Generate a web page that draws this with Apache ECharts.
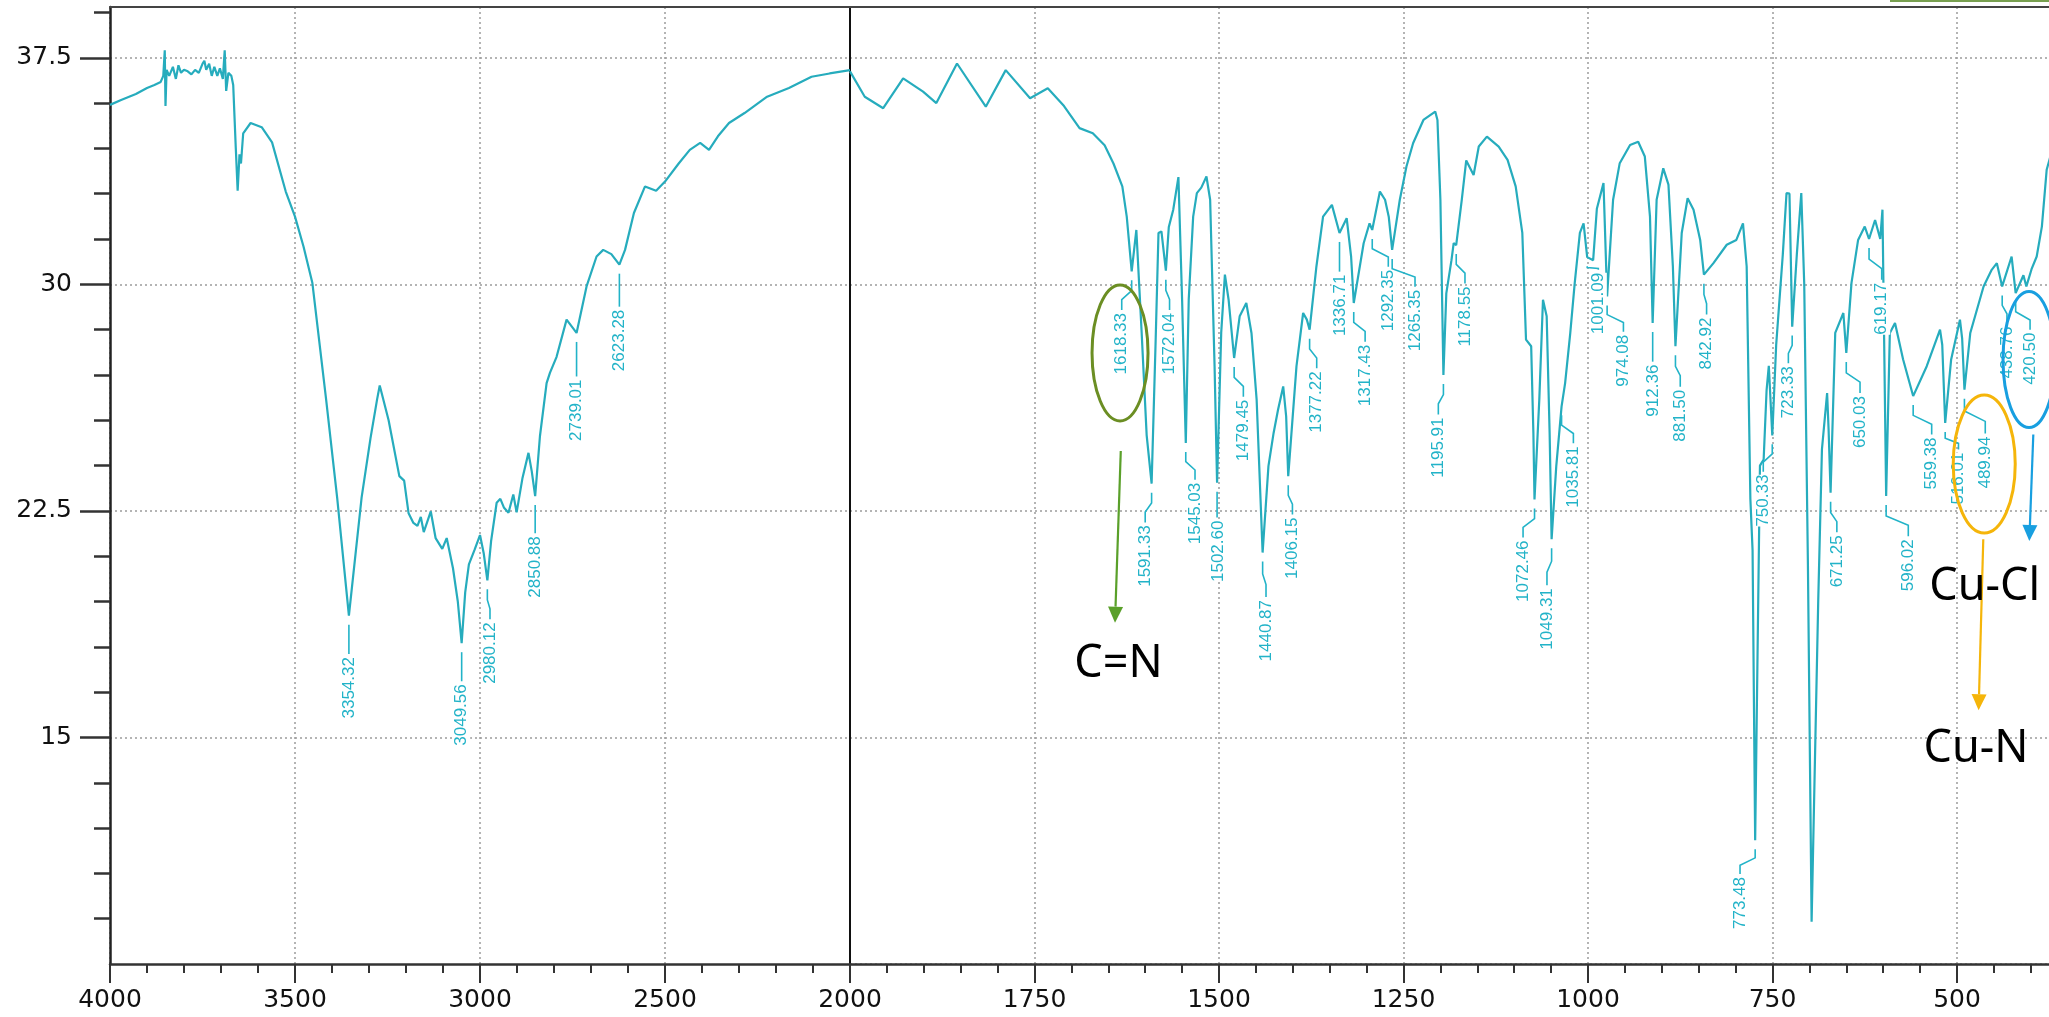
<!DOCTYPE html>
<html>
<head>
<meta charset="utf-8">
<title>FT-IR spectrum</title>
<script src="https://cdn.jsdelivr.net/npm/echarts@6/dist/echarts.min.js"></script>
<style>
  html, body { margin: 0; padding: 0; background: #fff; }
  #main { width: 2049px; height: 1017px; }
</style>
</head>
<body>
<div id="main"></div>
<script>
// spectrum, 4000-2000 cm-1 (left half)
const leftWn = [4000, 3970, 3930, 3900, 3880, 3863, 3856, 3852, 3850, 3847, 3840, 3830, 3822, 3815, 3808,
  3800, 3790, 3780, 3770, 3760, 3750, 3745, 3740, 3732, 3725, 3718, 3710, 3703, 3695, 3690, 3686, 3680,
  3672, 3667, 3660, 3655, 3650, 3646, 3640, 3620, 3590, 3562, 3525, 3500, 3477, 3453, 3416, 3386, 3354.3,
  3320, 3296, 3278, 3271, 3247, 3218, 3205, 3193, 3180, 3169, 3160, 3152, 3133, 3120, 3102, 3090, 3073,
  3060, 3049.6, 3040, 3030, 3015, 3000, 2990, 2980.1, 2970, 2955, 2945, 2935, 2923, 2910, 2901, 2885,
  2869, 2860, 2850.9, 2838, 2820, 2811, 2793, 2766, 2739, 2712, 2685, 2667, 2645, 2623.3, 2608, 2584,
  2554, 2524, 2500, 2463, 2433, 2405, 2381, 2357, 2327, 2285, 2224, 2165, 2104, 2055, 2000];
const leftT = [35.94, 36.1, 36.3, 36.5, 36.6, 36.7, 36.9, 37.75, 35.9, 37.1, 36.9, 37.2, 36.8, 37.25, 37.0,
  37.1, 37.05, 36.95, 37.1, 37.0, 37.3, 37.4, 37.1, 37.3, 36.9, 37.2, 36.9, 37.15, 36.8, 37.75, 36.4, 37.0,
  36.9, 36.6, 34.5, 33.1, 34.3, 34.0, 35.0, 35.34, 35.2, 34.7, 33.07, 32.24, 31.25, 30.04, 26.2, 22.93, 19.03,
  22.94, 24.9, 26.2, 26.65, 25.5, 23.65, 23.5, 22.42, 22.1, 22.0, 22.3, 21.8, 22.48, 21.6, 21.24, 21.6, 20.6,
  19.5, 18.12, 19.8, 20.73, 21.2, 21.7, 21.1, 20.2, 21.5, 22.77, 22.9, 22.6, 22.44, 23.04, 22.45, 23.6,
  24.42, 23.8, 22.99, 24.97, 26.73, 27.07, 27.6, 28.83, 28.39, 29.93, 30.92, 31.14, 31.0, 30.65, 31.14, 32.36,
  33.24, 33.1, 33.4, 34.0, 34.45, 34.68, 34.45, 34.9, 35.34, 35.67, 36.21, 36.5, 36.87, 36.98, 37.09];

// spectrum, 2000-355 cm-1 (right half, x scale doubled)
const rightWn = [2000, 1980, 1955, 1928, 1901, 1883, 1855, 1816, 1789, 1756, 1732, 1710, 1689, 1671, 1655,
  1643, 1631, 1625, 1618.3, 1612, 1605, 1598, 1591.3, 1586, 1582, 1578, 1572, 1568, 1562, 1555, 1550, 1545,
  1541, 1535, 1530, 1524, 1517, 1512, 1506, 1502.6, 1497, 1492, 1487, 1479.5, 1472, 1463, 1456, 1449, 1440.9,
  1433, 1426, 1420, 1413, 1409, 1406.2, 1395, 1386, 1381, 1377.2, 1368, 1359, 1347, 1336.7, 1327, 1321,
  1317.4, 1304, 1296, 1292.4, 1282, 1275, 1270, 1265.4, 1255, 1246, 1237, 1223, 1207, 1204, 1200, 1195.9,
  1192, 1185, 1182, 1178.6, 1171, 1165, 1155, 1148, 1137, 1121, 1109, 1098, 1089, 1084, 1077, 1074, 1072.5,
  1066, 1061, 1056, 1052, 1049.3, 1043, 1035.8, 1031, 1024, 1018, 1011, 1006, 1001.1, 993, 988, 979,
  974.1, 966, 957, 943, 932, 923, 916, 912.4, 907, 898, 891, 885, 881.5, 873, 865, 857, 848, 842.9, 830,
  812, 799, 790, 785, 780, 777, 773.5, 767, 762, 758, 755, 750.3, 745, 736, 731, 727, 723.3, 717, 711, 707,
  702, 697, 688, 683, 676, 674, 671.3, 665, 654, 650, 643, 634, 625, 619.2, 611, 604, 601, 596, 591, 584,
  573, 559.4, 541, 523, 520, 516, 508, 496, 493, 489.9, 482, 464, 453, 446, 438.8, 426, 420.5, 410, 406,
  399, 392, 385, 378.5, 375, 365, 355];
const rightT = [37.05, 36.21, 35.83, 36.82, 36.38, 36.0, 37.31, 35.88, 37.09, 36.16, 36.49, 35.9, 35.17, 35.0, 34.6,
  34.0, 33.24, 32.24, 30.43, 31.8, 28.5, 25.0, 23.4, 28.0, 31.7, 31.75, 30.45, 31.9, 32.47, 33.55, 29.49, 24.75,
  29.5, 32.24, 33.02, 33.2, 33.57, 32.8, 27.3, 23.43, 28.4, 30.32, 29.49, 27.56, 28.94, 29.38, 28.39, 26.18, 21.12,
  23.98, 25.08, 25.85, 26.62, 25.63, 23.65, 27.29, 29.05, 28.83, 28.5, 30.59, 32.24, 32.63, 31.7, 32.19, 30.92,
  29.38, 31.36, 32.02, 31.8, 33.07, 32.8, 32.24, 31.14, 32.8, 33.9, 34.67, 35.44, 35.72, 35.44, 32.8, 27.0,
  29.7, 30.8, 31.36, 31.3, 32.8, 34.1, 33.62, 34.56, 34.89, 34.56, 34.12, 33.24, 31.7, 28.17, 27.95, 25.08, 22.88,
  26.18, 29.49, 28.94, 25.08, 21.56, 23.98, 25.96, 26.73, 28.39, 30.04, 31.7, 32.02, 30.9, 30.8, 32.5, 33.35,
  29.6, 32.8, 34.01, 34.61, 34.72, 34.23, 32.24, 28.72, 32.8, 33.84, 33.3, 30.6, 27.95, 31.7, 32.85, 32.47, 31.47, 30.32, 30.7,
  31.31, 31.47, 32.02, 30.59, 22.9, 21.2, 11.6, 24.0, 24.2, 26.5, 27.3, 25.0, 28.0, 31.0, 33.02, 33.0, 28.6, 31.0, 33.02, 30.0,
  20.7, 8.9, 19.57, 24.54, 26.4, 25.2, 23.1, 28.39, 29.05, 27.73, 30.04, 31.47, 31.91, 31.5, 32.13, 31.5, 32.47, 22.99, 28.39, 28.72,
  27.51, 26.3, 27.29, 28.5, 28.0, 25.41, 27.5, 28.83, 28.2, 26.51, 28.39, 29.93, 30.48, 30.7, 29.93, 30.92, 29.71, 30.3, 29.93,
  30.5, 30.92, 31.91, 33.79, 34.1, 35.0, 35.5];

// peak labels: labelled wavenumber, transmittance at the peak tip,
// and where the rotated text sits (wavenumber of its centre, T of its top end)
const leftPeakWn = [3354.32, 3049.56, 2980.12, 2850.88, 2739.01, 2623.28];
const leftPeakT = [19.03, 18.12, 20.2, 22.99, 28.39, 30.65];
const leftLabelWn = [3354.32, 3049.56, 2973, 2850.88, 2739.01, 2623.28];
const leftLabelT = [17.66, 16.76, 18.81, 21.66, 26.85, 29.16];

const rightPeakWn = [1618.33, 1591.33, 1572.04, 1545.03, 1502.60, 1479.45, 1440.87, 1406.15, 1377.22, 1336.71,
  1317.43, 1292.35, 1265.35, 1195.91, 1178.55, 1072.46, 1049.31, 1035.81, 1001.09, 974.08, 912.36, 881.50,
  842.92, 773.48, 750.33, 723.33, 671.25, 650.03, 619.17, 596.02, 559.38, 516.01, 489.94, 438.76, 420.50];
const rightPeakT = [30.43, 23.4, 30.45, 24.75, 23.43, 27.56, 21.12, 23.65, 28.5, 31.7,
  29.38, 31.8, 31.14, 27.0, 31.3, 22.88, 21.56, 25.96, 30.9, 29.6, 28.72, 27.95,
  30.32, 11.6, 25.0, 28.6, 23.1, 27.73, 31.5, 22.99, 26.3, 25.41, 26.51, 29.93, 29.71];
const rightLabelWn = [1631.8, 1600, 1567, 1532.5, 1501, 1467, 1436.3, 1400.5, 1367.6, 1336,
  1302, 1270.6, 1234.4, 1202.8, 1166.7, 1088, 1055.6, 1019.8, 986, 952, 911.5, 875,
  839.3, 794, 762.5, 728.5, 662.8, 631.4, 602, 566, 534.3, 498, 461.7, 432.3, 401];
const rightLabelT = [29.05, 22.02, 29.05, 23.43, 22.18, 26.18, 19.55, 22.28, 27.12, 30.32,
  28.0, 30.48, 29.82, 25.59, 29.93, 21.52, 19.94, 24.64, 30.38, 28.33, 27.34, 26.51,
  28.9, 10.38, 23.7, 27.29, 21.69, 26.3, 30.05, 21.56, 24.93, 24.43, 24.96, 28.6, 28.4];

// axis ticks
const yLabelValues = [15, 22.5, 30, 37.5];
const yMinorTickValues = [9, 10.5, 12, 13.5, 16.5, 18, 19.5, 21, 24, 25.5, 27, 28.5, 31.5, 33, 34.5, 36, 39];

const LINE_COLOR = '#26acbd';
const LABEL_COLOR = '#22b3c8';
const GRID_LINE = { type: [2, 3], color: '#9c9c9c', width: 1.5 };

const chart = echarts.init(document.getElementById('main'));

function zip(a, b) {
  return a.map((v, i) => [v, b[i]]);
}

function peakRenderer(peakWn, labelWn, labelT) {
  return function (params, api) {
    const i = params.dataIndex;
    const tip = api.coord([api.value(0), api.value(1)]);
    const lab = api.coord([labelWn[i], labelT[i]]);
    const y0 = tip[1] + 9;
    const y3 = lab[1] - 3;
    const bend = (y3 - y0) * 0.35;
    let pts;
    if (Math.abs(lab[0] - tip[0]) < 2) {
      pts = [[tip[0], y0], [tip[0], y3]];
    } else {
      pts = [[tip[0], y0], [tip[0], y0 + bend], [lab[0], y3 - bend], [lab[0], y3]];
    }
    return {
      type: 'group',
      children: [
        {
          type: 'polyline',
          shape: { points: pts },
          style: { stroke: LABEL_COLOR, lineWidth: 1.6, fill: 'none' }
        },
        {
          type: 'text',
          x: lab[0],
          y: lab[1],
          rotation: Math.PI / 2,
          style: {
            text: peakWn[i].toFixed(2),
            font: '17px "Liberation Sans", Arial, sans-serif',
            fill: LABEL_COLOR,
            align: 'right',
            verticalAlign: 'middle',
            backgroundColor: '#fff'
          }
        }
      ]
    };
  };
}

function bottomAxis(grid, min, max, interval, hideValue) {
  return {
    type: 'value',
    gridIndex: grid,
    position: 'bottom',
    min: min,
    max: max,
    interval: interval,
    inverse: true,
    axisLine: { onZero: false, lineStyle: { color: '#333', width: 2.5 } },
    axisTick: { show: true, length: 19, lineStyle: { color: '#333', width: 2 } },
    minorTick: { show: true, splitNumber: 5, length: 9, lineStyle: { color: '#333', width: 2 } },
    axisLabel: {
      margin: 24,
      color: '#111',
      fontFamily: 'DejaVu Sans',
      fontSize: 25,
      formatter: function (v) { return v === hideValue ? '' : String(v); }
    },
    splitLine: { show: true, lineStyle: GRID_LINE }
  };
}

function topAxis(grid, min, max) {
  return {
    type: 'value',
    gridIndex: grid,
    position: 'top',
    min: min,
    max: max,
    inverse: true,
    axisLine: { onZero: false, lineStyle: { color: '#444', width: 2 } },
    axisTick: { show: false },
    axisLabel: { show: false },
    splitLine: { show: false }
  };
}

const Y_MIN = 7.5;
const Y_MAX = 39.18;

const option = {
  animation: false,
  backgroundColor: '#fff',
  grid: [
    { left: 110, top: 7, width: 740, height: 957, outerBoundsMode: 'none', containLabel: false },
    { left: 850, top: 7, width: 1291.5, height: 957, outerBoundsMode: 'none', containLabel: false }
  ],
  xAxis: [
    bottomAxis(0, 2000, 4000, 500, 2000),
    bottomAxis(1, 250, 2000, 250, null),
    topAxis(0, 2000, 4000),
    topAxis(1, 250, 2000)
  ],
  yAxis: [
    {
      type: 'value',
      gridIndex: 0,
      position: 'left',
      min: Y_MIN,
      max: Y_MAX,
      interval: 7.5,
      axisLine: { show: true, onZero: false, lineStyle: { color: '#222', width: 2.5 } },
      axisTick: { show: true, length: 30, customValues: yLabelValues, lineStyle: { color: '#333', width: 2.5 } },
      axisLabel: {
        customValues: yLabelValues,
        margin: 38,
        color: '#111',
        fontFamily: 'DejaVu Sans',
        fontSize: 25,
        formatter: function (v) { return yLabelValues.indexOf(v) >= 0 ? String(v) : ''; }
      },
      splitLine: { show: true, lineStyle: GRID_LINE }
    },
    {
      type: 'value',
      gridIndex: 0,
      position: 'left',
      min: Y_MIN,
      max: Y_MAX,
      axisLine: { show: false },
      axisTick: { show: true, length: 16, customValues: yMinorTickValues, lineStyle: { color: '#333', width: 2.5 } },
      axisLabel: { show: false },
      splitLine: { show: false }
    },
    {
      type: 'value',
      gridIndex: 1,
      position: 'left',
      min: Y_MIN,
      max: Y_MAX,
      interval: 7.5,
      axisLine: { show: true, onZero: false, lineStyle: { color: '#111', width: 2 } },
      axisTick: { show: false },
      axisLabel: { show: false },
      splitLine: { show: true, lineStyle: GRID_LINE }
    }
  ],
  series: [
    {
      type: 'line',
      xAxisIndex: 0,
      yAxisIndex: 0,
      data: zip(leftWn, leftT),
      showSymbol: false,
      lineStyle: { color: LINE_COLOR, width: 2.2 },
      z: 3
    },
    {
      type: 'line',
      xAxisIndex: 1,
      yAxisIndex: 2,
      data: zip(rightWn, rightT),
      showSymbol: false,
      lineStyle: { color: LINE_COLOR, width: 2.2 },
      z: 3
    },
    {
      type: 'custom',
      xAxisIndex: 0,
      yAxisIndex: 0,
      data: zip(leftPeakWn, leftPeakT),
      renderItem: peakRenderer(leftPeakWn, leftLabelWn, leftLabelT),
      z: 4
    },
    {
      type: 'custom',
      xAxisIndex: 1,
      yAxisIndex: 2,
      data: zip(rightPeakWn, rightPeakT),
      renderItem: peakRenderer(rightPeakWn, rightLabelWn, rightLabelT),
      z: 4
    }
  ]
};

chart.setOption(option);

// hand-drawn annotations (ellipse around a peak label, arrow, assignment)
const notes = [
  { text: 'C=N', color: '#6b8e23', arrowColor: '#5aa02a', ellipse: [1634.1, 27.73], rx: 28, ry: 68,
    from: [1633.1, 24.48], to: [1640.9, 18.8], at: [1636.2, 17.42] },
  { text: 'Cu-N', color: '#f5b50a', arrowColor: '#f5b50a', ellipse: [463.1, 24.05], rx: 31, ry: 69,
    from: [464.4, 21.56], to: [470.7, 15.9], at: [474.3, 14.61] },
  { text: 'Cu-Cl', color: '#189fe0', arrowColor: '#189fe0', ellipse: [402.4, 27.51], rx: 26, ry: 68,
    from: [396.6, 25.03], to: [402.0, 21.5], at: [462.6, 19.97] }
];

function px(p) {
  return chart.convertToPixel({ seriesIndex: 1 }, p);
}

const graphics = [];
notes.forEach(function (n) {
  const c = px(n.ellipse);
  graphics.push({
    type: 'ellipse',
    shape: { cx: c[0], cy: c[1], rx: n.rx, ry: n.ry },
    style: { fill: 'none', stroke: n.color, lineWidth: 3 },
    z: 20
  });
  const p0 = px(n.from);
  const p1 = px(n.to);
  const dx = p1[0] - p0[0], dy = p1[1] - p0[1];
  const len = Math.sqrt(dx * dx + dy * dy);
  const ux = dx / len, uy = dy / len;
  const bx = p1[0] - ux * 16, by = p1[1] - uy * 16;
  graphics.push({
    type: 'line',
    shape: { x1: p0[0], y1: p0[1], x2: bx, y2: by },
    style: { stroke: n.arrowColor, lineWidth: 2.2 },
    z: 20
  });
  graphics.push({
    type: 'polygon',
    shape: { points: [[p1[0], p1[1]], [bx - uy * 7.5, by + ux * 7.5], [bx + uy * 7.5, by - ux * 7.5]] },
    style: { fill: n.arrowColor },
    z: 20
  });
  const t = px(n.at);
  graphics.push({
    type: 'text',
    x: t[0],
    y: t[1],
    style: {
      text: n.text,
      font: '45px "Noto Sans", sans-serif',
      fill: '#000',
      align: 'center',
      verticalAlign: 'middle'
    },
    z: 20
  });
});

// slide edge visible at the top right corner
graphics.push({
  type: 'rect',
  shape: { x: 1890, y: 0, width: 159, height: 2 },
  style: { fill: '#78a050' },
  z: 20
});

chart.setOption({ graphic: graphics });
</script>
</body>
</html>
